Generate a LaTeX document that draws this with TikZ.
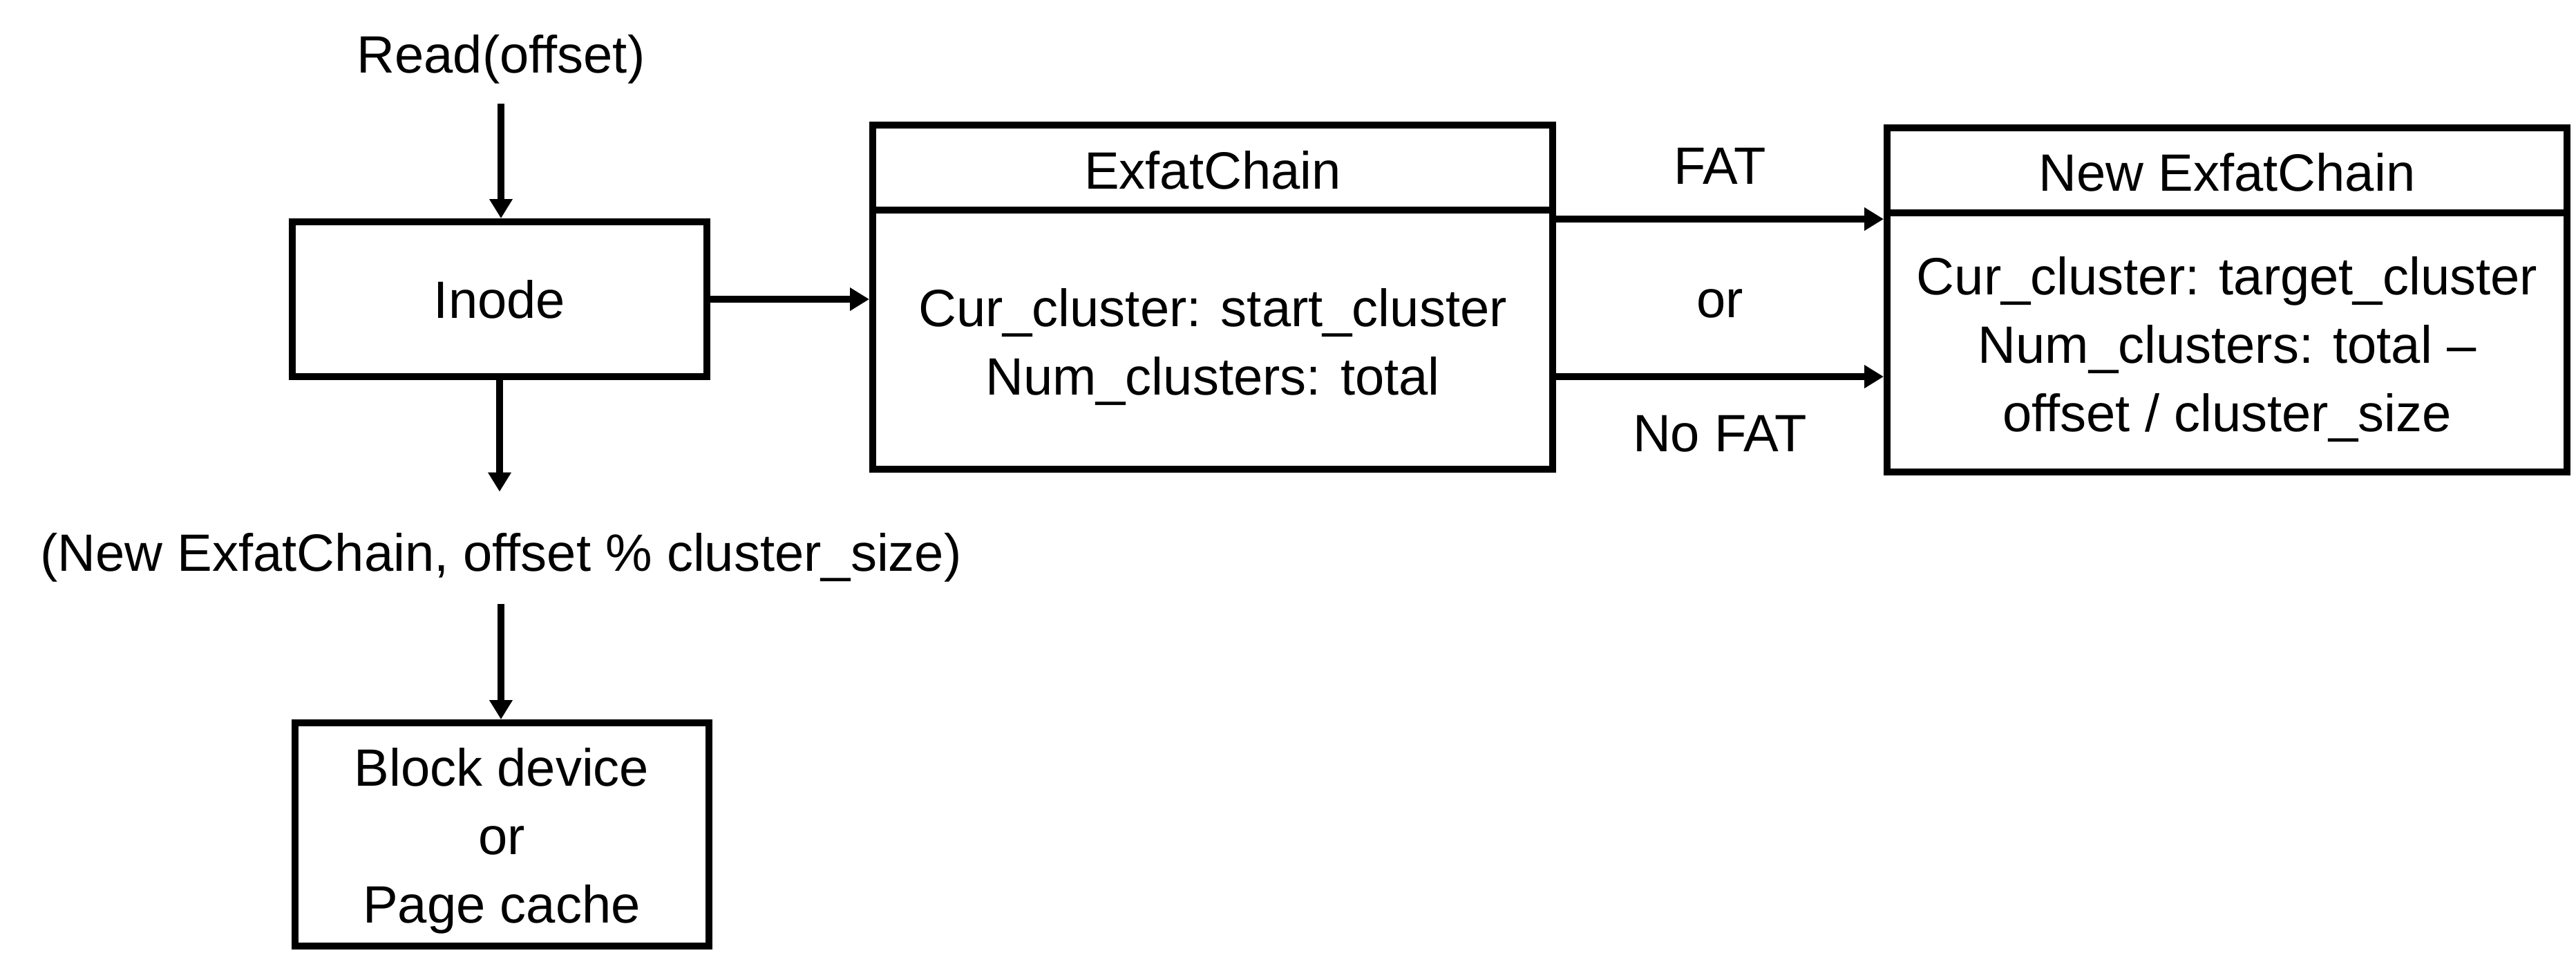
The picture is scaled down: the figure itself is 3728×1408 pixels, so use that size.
\documentclass[tikz,border=0pt]{standalone}
\usepackage{fontspec}
\setmainfont{Liberation Sans}
\usetikzlibrary{arrows.meta,calc}
\begin{document}
\begin{tikzpicture}[x=0.5pt,y=-0.5pt,
  txt/.style={font=\fontsize{38}{49.5}\selectfont, inner sep=0pt, align=center},
  box/.style={draw, line width=5pt, inner sep=0pt, font=\fontsize{38}{49.5}\selectfont, align=center},
  arr/.style={line width=4.6pt, -{Triangle[length=14pt,width=16pt]}}]
\useasboundingbox (0,0) rectangle (3728,1408);
% boxes
\node[box, minimum width=300pt, minimum height=112pt] (inode) at (723,433) {Inode};
\node[box, minimum width=299.5pt, minimum height=161.5pt] (block) at (726,1207.5) {};
\node[box, minimum width=492pt, minimum height=249pt] (exfat) at (1755,430) {};
\node[box, minimum width=492pt, minimum height=249pt] (newc) at (3223,434) {};
% dividers
\coordinate (d1) at (0,304);
\coordinate (d2) at (0,308);
\draw[line width=5pt] (exfat.west |- d1) -- (exfat.east |- d1);
\draw[line width=5pt] (newc.west |- d2) -- (newc.east |- d2);
% texts
\node[txt, anchor=base] (read) at (725,105) {Read(offset)};
\node[txt, anchor=base] (pair) at (725,826) {(New ExfatChain, offset \% cluster\_size)};
\node[txt, anchor=base] (blocktxt) at (726,1335) {Block device\\or\\Page cache};
\node[txt, anchor=base] (exfattitle) at (1755,273) {ExfatChain};
\node[txt, anchor=base] (exfatbody) at (1755,571) {Cur\_cluster: start\_cluster\\Num\_clusters: total};
\node[txt, anchor=base] (newtitle) at (3223,276) {New ExfatChain};
\node[txt, anchor=base] (newbody) at (3223,624) {Cur\_cluster: target\_cluster\\Num\_clusters: total –\\offset / cluster\_size};
\node[txt, anchor=base] (fat) at (2489,266) {FAT};
\node[txt, anchor=base] (or) at (2489,459) {or};
\node[txt, anchor=base] (nofat) at (2489,653) {No FAT};
% connectors
\coordinate (fy) at (0,317);
\coordinate (nfy) at (0,545);
\draw[arr, shorten <=14.5pt] (read.south) -- (read.south |- inode.north);
\draw[arr] (inode.east) -- (exfat.west |- inode.east);
\draw[arr, shorten >=29.5pt] (inode.south) -- (inode.south |- pair.north);
\draw[arr, shorten <=16pt] (pair.south) -- (pair.south |- block.north);
\draw[arr] (exfat.east |- fy) -- (newc.west |- fy);
\draw[arr] (exfat.east |- nfy) -- (newc.west |- nfy);
\end{tikzpicture}
\end{document}
